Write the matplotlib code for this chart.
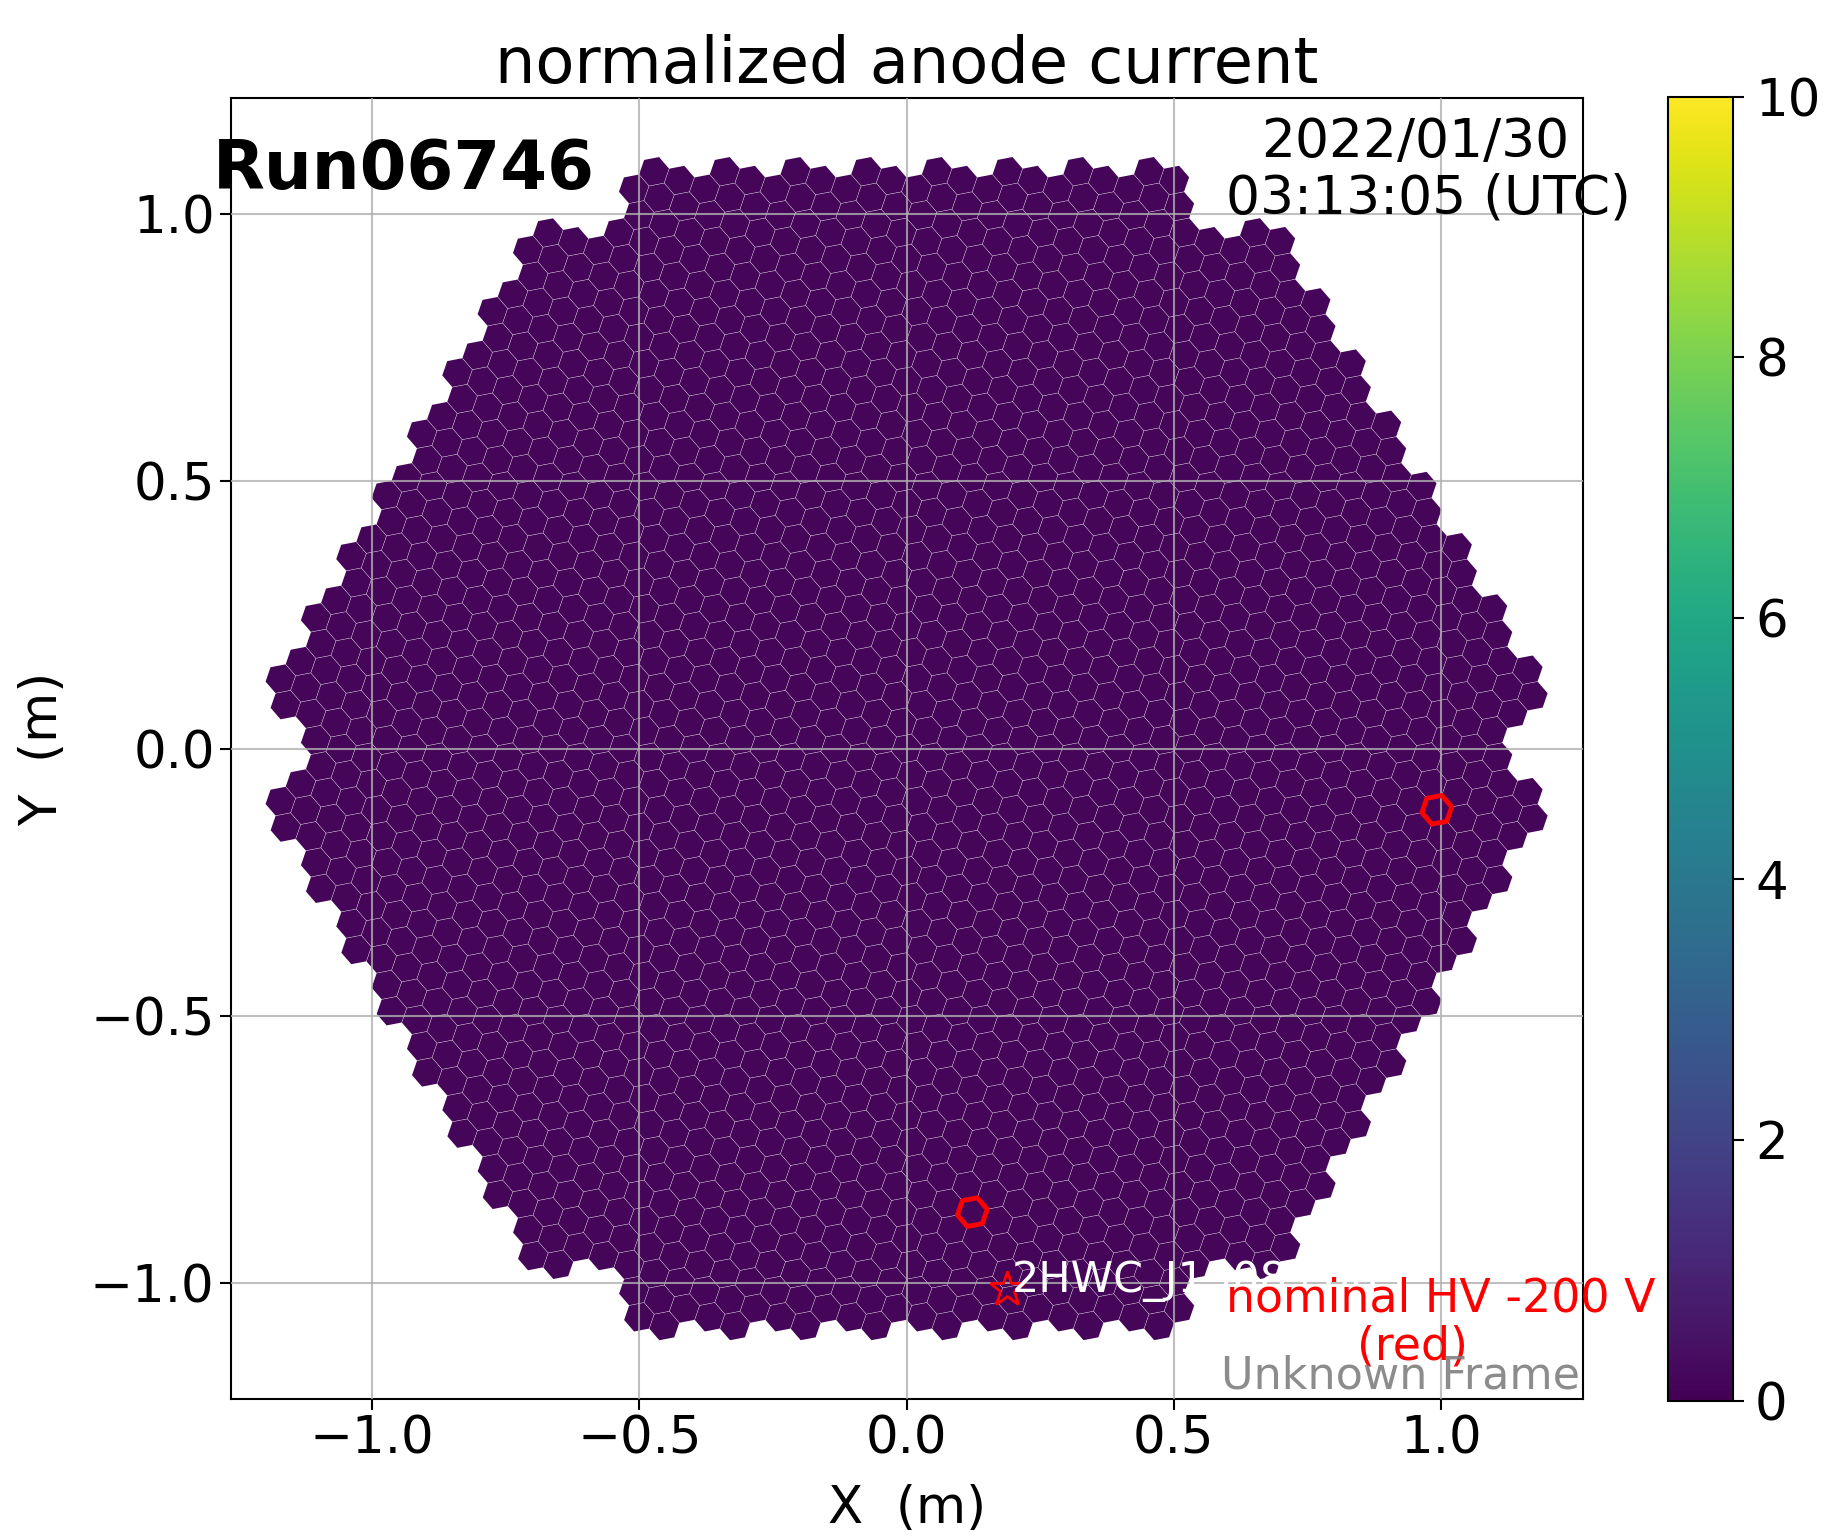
import numpy as np
import matplotlib
matplotlib.use("Agg")
import matplotlib.pyplot as plt
from matplotlib.collections import PolyCollection

# ---- data ----
title = "normalized anode current"
run_label = "Run06746"
date_lines = ["2022/01/30", "03:13:05 (UTC)"]
source_name = "2HWC_J1908+063"
source_xy = (0.187, -1.011)
hv_note_lines = ["nominal HV -200 V", "(red)"]
frame_note = "Unknown Frame"
pixel_pitch = 0.05          # m, LST camera pixel spacing
module_rings = 9            # module rings around centre (265 modules, 6 corners removed)
pixel_rotation_deg = -19.1  # pixel lattice rotation
anode_level = 0.12          # all pixels show ~0 normalized current
hv_reduced_xy = [(0.99, -0.11), (0.12, -0.87)]
cbar_ticks = [0, 2, 4, 6, 8, 10]
axis_ticks = [-1.0, -0.5, 0.0, 0.5, 1.0]
vmin, vmax = 0, 10

# ---- camera geometry ----
th = np.deg2rad(pixel_rotation_deg)
b1 = pixel_pitch * np.array([np.cos(th), np.sin(th)])
b2 = pixel_pitch * np.array([np.cos(th + np.pi / 3), np.sin(th + np.pi / 3)])
b3 = b2 - b1
A1 = 2 * b1 + b2
ang = np.pi / 3
R = np.array([[np.cos(ang), -np.sin(ang)], [np.sin(ang), np.cos(ang)]])
A2 = R @ A1
n = module_rings
corners = {(n, 0), (-n, 0), (0, n), (0, -n), (n, -n), (-n, n)}
modules = []
for i in range(-n, n + 1):
    for j in range(-n, n + 1):
        if max(abs(i), abs(j), abs(i + j)) <= n and (i, j) not in corners:
            modules.append(i * A1 + j * A2)
offsets = [np.zeros(2), b1, -b1, b2, -b2, b3, -b3]
pix = np.array([m + o for m in modules for o in offsets])
values = np.full(len(pix), anode_level)

r = pixel_pitch / np.sqrt(3) * 0.985
vang = th + np.pi / 6 + np.arange(6) * np.pi / 3
hexv = np.stack([r * np.cos(vang), r * np.sin(vang)], axis=1)
verts = pix[:, None, :] + hexv[None, :, :]

# ---- figure ----
fig = plt.figure(figsize=(18.26, 15.38), dpi=100)
ax = fig.add_axes([0.1263, 0.0893, 0.7404, 0.8479])
coll = PolyCollection(verts, array=values, cmap="viridis", linewidths=0,
                      antialiased=True)
coll.set_clim(vmin, vmax)
ax.add_collection(coll)

# highlighted pixels
hl = []
for xy in hv_reduced_xy:
    k = np.argmin(np.hypot(pix[:, 0] - xy[0], pix[:, 1] - xy[1]))
    hl.append(verts[k])
ax.add_collection(PolyCollection(hl, facecolors="none", edgecolors="red",
                                 linewidths=3.5, zorder=3))

ax.set_xlim(-1.265, 1.265)
ax.set_ylim(-1.217, 1.217)
ax.set_aspect("equal")
ax.set_xticks(axis_ticks)
ax.set_yticks(axis_ticks)
ax.tick_params(labelsize=37, length=8, width=1.5)
ax.grid(True, color="#b0b0b0", lw=1.5, alpha=0.8)
ax.set_axisbelow(False)
for s in ax.spines.values():
    s.set_linewidth(1.5)
ax.set_xlabel("X  (m)", fontsize=37, labelpad=14)
ax.set_ylabel("Y  (m)", fontsize=37, labelpad=16)
ax.set_title(title, fontsize=46, pad=11)

ax.plot(*source_xy, marker="*", ms=26, mfc="none", mec="red", mew=2, zorder=4)
ax.text(source_xy[0] + 0.01, source_xy[1] + 0.015, source_name, color="white",
        fontsize=31, va="center", ha="left", zorder=4)
ax.text(0.895, 0.0675, hv_note_lines[0], color="red", fontsize=33, ha="center",
        va="baseline", transform=ax.transAxes, zorder=5)
ax.text(0.874, 0.030, hv_note_lines[1], color="red", fontsize=33, ha="center",
        va="baseline", transform=ax.transAxes, zorder=5)
ax.text(0.998, 0.0084, frame_note, color="gray", alpha=0.9, fontsize=32,
        ha="right", va="baseline", transform=ax.transAxes, zorder=5)

fig.text(0.1167, 0.877, run_label, fontsize=48.5, fontweight="bold",
         ha="left", va="baseline")
fig.text(0.7749, 0.898, date_lines[0], fontsize=38.5, ha="center", va="baseline")
fig.text(0.7822, 0.861, date_lines[1], fontsize=38.5, ha="center", va="baseline")

cax = fig.add_axes([0.9133, 0.0893, 0.0357, 0.8479])
cb = fig.colorbar(coll, cax=cax, ticks=cbar_ticks)
cb.ax.tick_params(labelsize=37, length=8, width=1.5, pad=8)
cb.outline.set_linewidth(1.5)

fig.savefig("out.png", dpi=100)
